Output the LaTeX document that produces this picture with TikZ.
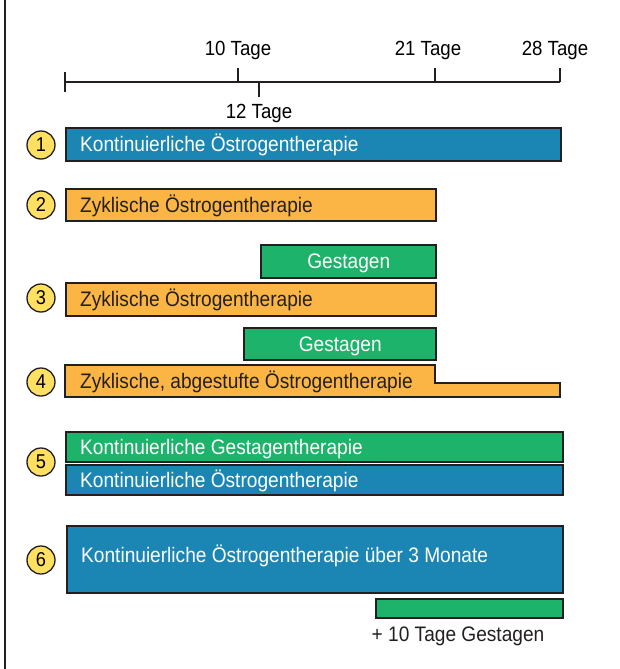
\documentclass[tikz,border=0pt]{standalone}
\usepackage{fontspec}
\setmainfont{Liberation Sans}[FakeStretch=0.91]
\usetikzlibrary{positioning}

\definecolor{blau}{HTML}{1B86B4}
\definecolor{orange}{HTML}{FBB545}
\definecolor{gruen}{HTML}{1DB36B}
\definecolor{gelb}{HTML}{FFE060}
\definecolor{rand}{HTML}{231F20}

\begin{document}
\begin{tikzpicture}[x=1pt, y=-1pt, line width=2.4pt,
    bar node/.style={rectangle, draw=rand, anchor=north west, inner sep=0pt},
    num node/.style={circle, draw=rand, line width=1.3pt, fill=gelb, minimum size=28pt,
                     inner sep=0pt, font=\fontsize{20}{20}\selectfont},
    text node/.style={anchor=west, inner sep=0pt, text height=15pt, text depth=1pt,
                      font=\fontsize{21}{22}\selectfont},
    tick node/.style={anchor=base, inner sep=0pt, font=\fontsize{20.5}{22}\selectfont}]

  \useasboundingbox (0,0) rectangle (619,669);
  \draw[line width=1.5pt, draw=rand] (5,0) -- (5,669);

  % Zeitachse
  \coordinate (t0) at (65,82);
  \coordinate (t10) at (238,82);
  \coordinate (t12) at (259,82);
  \coordinate (t21) at (435,82);
  \coordinate (t28) at (560,82);
  \draw[line width=2pt, draw=rand] (t0) -- (t28);
  \draw[line width=2pt, draw=rand] ([yshift=-10pt]t0) -- ([yshift=10pt]t0);
  \draw[line width=2pt, draw=rand] (t10) -- ([yshift=14pt]t10);
  \draw[line width=2pt, draw=rand] (t12) -- ([yshift=-15pt]t12);
  \draw[line width=2pt, draw=rand] (t21) -- ([yshift=14pt]t21);
  \draw[line width=2pt, draw=rand] (t28) -- ([yshift=14pt]t28);
  \node[tick node] (l10) at (238,56) {10 Tage};
  \node[tick node] (l21) at (428,56) {21 Tage};
  \node[tick node] (l28) at (555,56) {28 Tage};
  \node[tick node] (l12) at (259,118) {12 Tage};

  % 1
  \node[num node] (n1) at (41,145) {1};
  \node[bar node, fill=blau, minimum width=495pt, minimum height=33pt] (b1) at (65,127) {};
  \node[text node, text=white, right=14pt of b1.west] (t1) {Kontinuierliche Östrogentherapie};

  % 2
  \node[num node] (n2) at (41,205) {2};
  \node[bar node, fill=orange, minimum width=370pt, minimum height=32pt] (b2) at (65,188) {};
  \node[text node, text=rand, right=14pt of b2.west] (t2) {Zyklische Östrogentherapie};

  % 3
  \node[bar node, fill=gruen, minimum width=175pt, minimum height=33pt] (g3) at (260,244) {};
  \node[text node, anchor=center, text=white] (tg3) at (g3.center) {Gestagen};
  \node[num node] (n3) at (41,298) {3};
  \node[bar node, fill=orange, minimum width=370pt, minimum height=33pt] (b3) at (65,282) {};
  \node[text node, text=rand, right=14pt of b3.west] (t3) {Zyklische Östrogentherapie};

  % 4
  \node[bar node, fill=gruen, minimum width=192pt, minimum height=32pt] (g4) at (243,327) {};
  \node[text node, anchor=center, text=white] (tg4) at (g4.center) {Gestagen};
  \node[num node] (n4) at (41,382) {4};
  \draw[draw=rand, fill=orange] (65,365) -- (435,365) -- (435,383) -- (560,383)
    -- (560,397) -- (65,397) -- cycle;
  \coordinate (b4) at (65,381);
  \node[text node, text=rand, right=14pt of b4] (t4) {Zyklische, abgestufte Östrogentherapie};

  % 5
  \node[num node] (n5) at (41,462) {5};
  \node[bar node, fill=gruen, minimum width=497pt, minimum height=30pt] (g5) at (65,431) {};
  \node[text node, text=white, right=14pt of g5.west] (tg5) {Kontinuierliche Gestagentherapie};
  \node[bar node, fill=blau, minimum width=497pt, minimum height=30pt] (b5) at (65,464) {};
  \node[text node, text=white, right=14pt of b5.west] (t5) {Kontinuierliche Östrogentherapie};

  % 6
  \node[num node] (n6) at (41,560) {6};
  \node[bar node, fill=blau, minimum width=496pt, minimum height=67pt] (b6) at (66,525) {};
  \node[text node, text=white, right=14pt of b6.west, yshift=4pt] (t6) {Kontinuierliche Östrogentherapie über 3 Monate};
  \node[bar node, fill=gruen, minimum width=187pt, minimum height=19pt] (g6) at (375,598) {};
  \node[text node, anchor=center, text=rand] (tg6) at (458,634) {+ 10 Tage Gestagen};
\end{tikzpicture}
\end{document}
